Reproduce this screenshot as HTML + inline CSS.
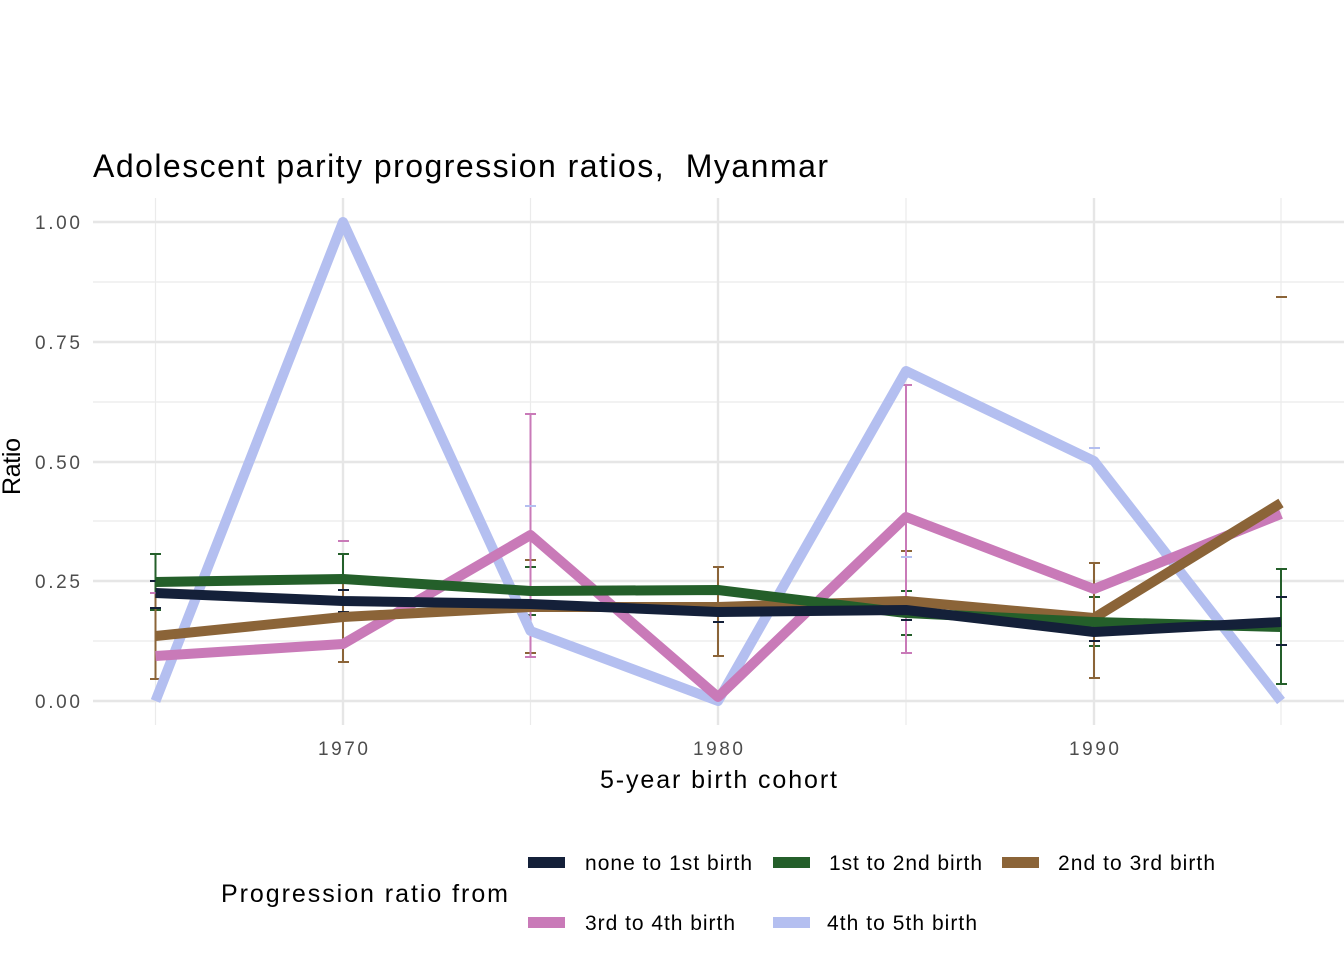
<!DOCTYPE html>
<html><head><meta charset="utf-8"><style>body{margin:0;background:#fff}svg{display:block}</style></head><body>
<svg width="1344" height="960" xmlns="http://www.w3.org/2000/svg" font-family="Liberation Sans, sans-serif">
<rect width="1344" height="960" fill="#fff"/>
<g stroke="#ebebeb" stroke-width="1.2">
<line x1="93" x2="1344" y1="282" y2="282"/><line x1="93" x2="1344" y1="402" y2="402"/><line x1="93" x2="1344" y1="521" y2="521"/><line x1="93" x2="1344" y1="641" y2="641"/>
<line x1="155.5" x2="155.5" y1="198" y2="725"/><line x1="530.5" x2="530.5" y1="198" y2="725"/><line x1="906" x2="906" y1="198" y2="725"/><line x1="1281" x2="1281" y1="198" y2="725"/>
</g>
<g stroke="#e6e6e6" stroke-width="2.4">
<line x1="93" x2="1344" y1="222" y2="222"/><line x1="93" x2="1344" y1="342" y2="342"/><line x1="93" x2="1344" y1="462" y2="462"/><line x1="93" x2="1344" y1="581" y2="581"/><line x1="93" x2="1344" y1="701" y2="701"/>
<line x1="343" x2="343" y1="198" y2="725"/><line x1="718" x2="718" y1="198" y2="725"/><line x1="1094" x2="1094" y1="198" y2="725"/>
</g>
<g fill="none" stroke-width="2">
<g stroke="#245f2a"><path d="M155.5 554V610M150 554h11M150 610h11M343 554V604M338 554h11M338 604h11M530.5 567V615M525 567h11M525 615h11M906 591V635M901 591h11M901 635h11M1094 597V646M1089 597h11M1089 646h11M1281 569V684M1276 569h11M1276 684h11"/></g>
<g stroke="#8b6438"><path d="M155.5 593V679M150 593h11M150 679h11M343 576V662M338 576h11M338 662h11M530.5 560V653M525 560h11M525 653h11M718 567V656M713 567h11M713 656h11M906 551V653M901 551h11M901 653h11M1094 563V678M1089 563h11M1089 678h11M1276 297h11"/></g>
<g stroke="#c97ab8"><path d="M150 593h11M338 541h11M530.5 414V657M525 414h11M525 657h11M906 385V653M901 385h11M901 653h11"/></g>
<g stroke="#142039"><path d="M150 581h11M150 608h11M338 590h11M338 612h11M525 594h11M713 603h11M713 622h11M901 600h11M901 620h11M1089 623h11M1089 641h11M1276 597h11M1276 645h11"/></g>
<g stroke="#b4bff0"><path d="M525 506h11M901 557h11M1089 448h11"/></g>
</g>
<g fill="none" stroke-width="10" stroke-linejoin="round">
<polyline stroke="#b4bff0" points="155.5,701 343,222 530.5,631 718,701 906,371 1094,461 1281,701"/>
<polyline stroke="#c97ab8" points="155.5,656 343,644 530.5,535 718,697 906,517 1094,589 1281,514"/>
<polyline stroke="#8b6438" points="155.5,636 343,617 530.5,607 718,607 906,601 1094,618 1281,503"/>
<polyline stroke="#245f2a" points="155.5,582 343,579 530.5,591 718,590 906,613 1094,622 1281,627"/>
<polyline stroke="#142039" points="155.5,593 343,601 530.5,604 718,612 906,610 1094,632 1281,622"/>
</g>
<g font-size="19" fill="#4d4d4d">
<text x="35" y="229" textLength="45">1.00</text><text x="35" y="349" textLength="45">0.75</text><text x="35" y="469" textLength="45">0.50</text><text x="35" y="588" textLength="45">0.25</text><text x="35" y="708" textLength="45">0.00</text>
<text x="318" y="755" textLength="50">1970</text><text x="693" y="755" textLength="50">1980</text><text x="1069" y="755" textLength="50">1990</text>
</g>
<text x="600" y="788" font-size="25" textLength="237">5-year birth cohort</text>
<text transform="translate(20,495) rotate(-90)" font-size="25" textLength="57">Ratio</text>
<text x="93" y="177" font-size="32" textLength="735">Adolescent parity progression ratios,&#160; Myanmar</text>
<text x="221" y="902" font-size="25" textLength="287">Progression ratio from</text>
<rect x="528" y="857" width="37" height="11" fill="#142039"/>
<rect x="773" y="857" width="37" height="11" fill="#245f2a"/>
<rect x="1002" y="857" width="37" height="11" fill="#8b6438"/>
<rect x="528" y="917" width="37" height="11" fill="#c97ab8"/>
<rect x="773" y="917" width="37" height="11" fill="#b4bff0"/>
<g font-size="21">
<text x="585" y="870" textLength="167">none to 1st birth</text><text x="829" y="870" textLength="153">1st to 2nd birth</text><text x="1058" y="870" textLength="157">2nd to 3rd birth</text>
<text x="585" y="930" textLength="150">3rd to 4th birth</text><text x="827" y="930" textLength="150">4th to 5th birth</text>
</g>
</svg>
</body></html>
